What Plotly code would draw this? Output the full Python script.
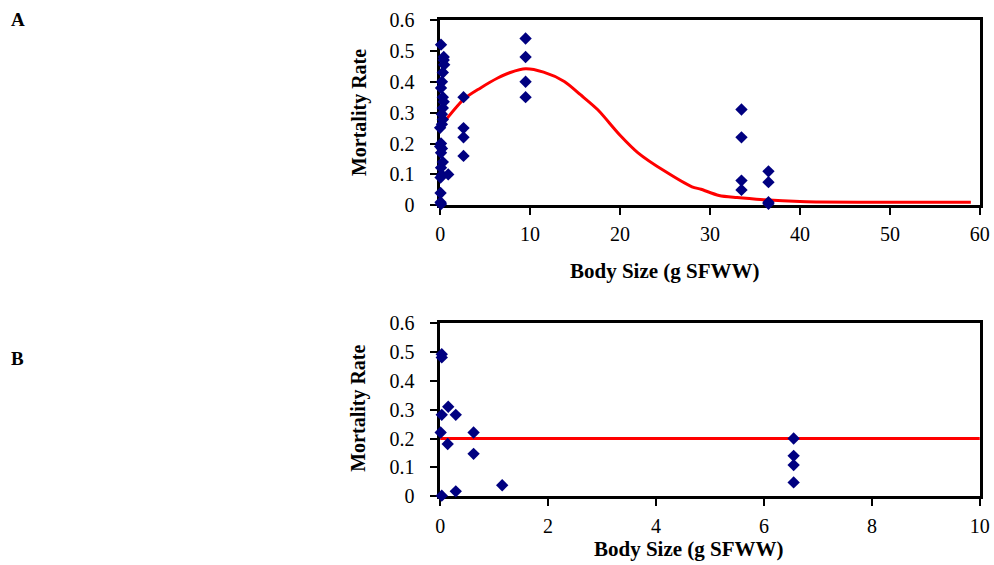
import plotly.graph_objects as go

# ---------------- Panel A data ----------------
a_x = [0.1, 0.4, 0.4, 0.45, 0.3, 0.2, 0.1, 0.3, 0.4, 0.3, 0.2, 0.3, 0.2, 0.0,
       0.1, 0.0, 0.2, 0.1, 0.3, 0.1, 0.2, 0.9, 0.05, 0.05, 0.05, 0.1,
       2.6, 2.6, 2.6, 2.6,
       9.5, 9.5, 9.5, 9.5,
       33.5, 33.5, 33.5, 33.5,
       36.5, 36.5, 36.5, 36.5]
a_y = [0.52, 0.48, 0.47, 0.455, 0.43, 0.40, 0.38, 0.35, 0.335, 0.315, 0.295, 0.278, 0.262, 0.251,
       0.20, 0.19, 0.184, 0.17, 0.14, 0.122, 0.098, 0.10, 0.09, 0.04, 0.01, 0.004,
       0.35, 0.25, 0.22, 0.16,
       0.54, 0.48, 0.40, 0.35,
       0.31, 0.22, 0.08, 0.05,
       0.11, 0.075, 0.01, 0.005]

curve_x = [0.6, 2.7, 4.5, 6.4, 7.8, 9.5, 11.5, 13.8, 15.6, 17.5, 20.0, 22.0, 25.0,
           28.0, 29.0, 31.0, 33.0, 36.0, 40.0, 42.0, 50.0, 59.0]
curve_y = [0.275, 0.345, 0.38, 0.412, 0.43, 0.442, 0.431, 0.401, 0.358, 0.31, 0.227, 0.17, 0.11,
           0.06, 0.052, 0.032, 0.025, 0.018, 0.012, 0.011, 0.01, 0.01]

# ---------------- Panel B data ----------------
b_x = [0.03, 0.03, 0.15, 0.03, 0.29, 0.01, 0.62, 0.14, 0.62, 1.15, 0.29, 0.03,
       6.55, 6.55, 6.55, 6.55]
b_y = [0.492, 0.481, 0.31, 0.282, 0.282, 0.221, 0.221, 0.181, 0.147, 0.038, 0.017, 0.002,
       0.20, 0.14, 0.108, 0.048]

line_b_x = [0, 10]
line_b_y = [0.2, 0.2]

x_ticks_a = [0, 10, 20, 30, 40, 50, 60]
x_ticks_b = [0, 2, 4, 6, 8, 10]
y_ticks = [0, 0.1, 0.2, 0.3, 0.4, 0.5, 0.6]

W, H = 1004, 572
serif = "Liberation Serif"
navy = "#000080"

# target screen pixel -> paper fraction (calibrated)
def px(t):
    return ((t - 4.2) / 0.985) / W

def py(t):
    return 1 - ((t - 9.33) / 0.9657) / H

fig = go.Figure()

fig.add_trace(go.Scatter(x=curve_x, y=curve_y, mode="lines",
                         line=dict(color="#ff0000", width=3, shape="spline", smoothing=0.8),
                         xaxis="x", yaxis="y", showlegend=False, hoverinfo="skip"))
fig.add_trace(go.Scatter(x=a_x, y=a_y, mode="markers",
                         marker=dict(symbol="diamond", size=9.5, color=navy),
                         xaxis="x", yaxis="y", cliponaxis=False, showlegend=False))

fig.add_trace(go.Scatter(x=line_b_x, y=line_b_y, mode="lines",
                         line=dict(color="#ff0000", width=3), xaxis="x2", yaxis="y2",
                         showlegend=False, hoverinfo="skip"))
fig.add_trace(go.Scatter(x=b_x, y=b_y, mode="markers",
                         marker=dict(symbol="diamond", size=9.5, color=navy),
                         xaxis="x2", yaxis="y2", cliponaxis=False, showlegend=False))

xd = [px(439.3), px(979)]
ya = [py(204.5), py(18.3)]
yb = [py(496.7), py(322.7)]

common = dict(showgrid=False, zeroline=False, showline=True, linecolor="black", linewidth=2.5,
              mirror=True, ticks="outside", ticklen=7, tickwidth=2, tickcolor="black",
              ticklabeloverflow="allow",
              tickfont=dict(family=serif, size=20, color="black"), layer="below traces")

fig.update_layout(
    width=W, height=H, margin=dict(l=0, r=0, t=0, b=0),
    paper_bgcolor="white", plot_bgcolor="white",
    xaxis=dict(domain=xd, range=[0, 60], tickvals=x_ticks_a, anchor="y",
               ticklabelstandoff=2, **common),
    yaxis=dict(domain=ya, range=[0, 0.6], tickvals=y_ticks, anchor="x",
               ticklabelstandoff=12, **common),
    xaxis2=dict(domain=xd, range=[0, 10], tickvals=x_ticks_b, anchor="y2",
                ticklabelstandoff=3, **common),
    yaxis2=dict(domain=yb, range=[0, 0.6], tickvals=y_ticks, anchor="x2",
                ticklabelstandoff=12, **common),
)

def ann(text, x, y, size, angle=0):
    fig.add_annotation(text=text, x=px(x), y=py(y), xref="paper", yref="paper",
                       showarrow=False, textangle=angle, xanchor="center", yanchor="middle",
                       font=dict(family=serif, size=size, color="black"))

ann("<b>Body Size (g SFWW)</b>", 664, 270, 21)
ann("<b>Body Size (g SFWW)</b>", 688, 550, 21)
ann("<b>Mortality Rate</b>", 358, 111, 20, -90)
ann("<b>Mortality Rate</b>", 358, 408, 20, -90)
ann("<b>A</b>", 17, 18, 19)
ann("<b>B</b>", 17, 358, 19)

fig.write_html("out.html")
